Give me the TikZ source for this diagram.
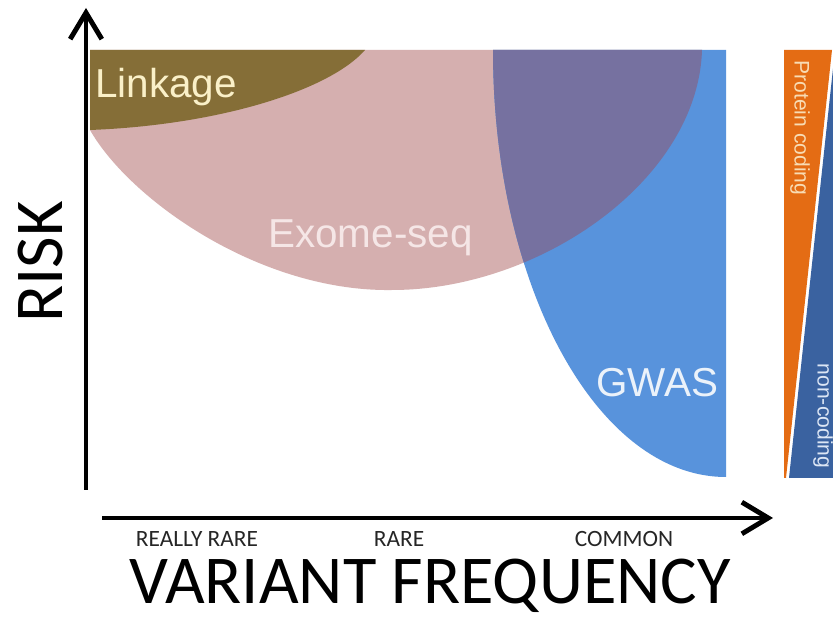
\documentclass[tikz,border=0pt]{standalone}
\usepackage{fontspec}
\setmainfont{Liberation Sans}
\newfontfamily\calfont{Carlito}
\usetikzlibrary{arrows.meta}
\definecolor{linkcol}{RGB}{133,110,55}
\definecolor{linktext}{RGB}{250,240,200}
\definecolor{exomecol}{RGB}{213,175,175}
\definecolor{exometext}{RGB}{245,230,230}
\definecolor{gwascol}{RGB}{88,147,220}
\definecolor{gwastext}{RGB}{235,242,250}
\definecolor{overlapcol}{RGB}{118,113,160}
\definecolor{codingcol}{RGB}{228,108,20}
\definecolor{codingtext}{RGB}{248,220,180}
\definecolor{noncodingcol}{RGB}{58,98,160}
\definecolor{noncodingtext}{RGB}{220,230,245}

\begin{document}
\begin{tikzpicture}[x=0.02cm, y=-0.02cm,
  axis/.style={line width=2.8pt, -{Straight Barb[length=15pt,width=18pt]}},
  region/.style={font=\fontsize{23}{23}\selectfont, anchor=base west, inner sep=0pt},
  freqlabel/.style={font=\calfont\fontsize{13.3}{14}\selectfont, anchor=base, inner sep=0pt, text=black!85},
  bigtitle/.style={font=\calfont\fontsize{39}{39}\selectfont, anchor=base, inner sep=0pt},
  sidelabel/.style={font=\fontsize{12}{12}\selectfont, rotate=-90, inner sep=0pt}]
\useasboundingbox (0,0) rectangle (833,621);
\clip (0,0) rectangle (833,621);
\fill[white] (0,0) rectangle (833,621);

\fill[exomecol] (90,50) -- (702,50) .. controls (698,180) and (540,290) .. (392,290)
  .. controls (260,292) and (130,200) .. (90,130) -- cycle;
\fill[gwascol] (493,50) -- (726,50) -- (726,477) .. controls (597,477) and (493,286) .. (493,50) -- cycle;
\begin{scope}
  \clip (493,50) -- (726,50) -- (726,477) .. controls (597,477) and (493,286) .. (493,50) -- cycle;
  \fill[overlapcol] (90,50) -- (702,50) .. controls (698,180) and (540,290) .. (392,290)
    .. controls (260,292) and (130,200) .. (90,130) -- cycle;
\end{scope}
\fill[linkcol] (90,50) -- (365,50) .. controls (330,90) and (220,125) .. (90,130) -- cycle;

\fill[codingcol] (784,50) -- (832,50) -- (786,478) -- (784,478) -- cycle;
\fill[noncodingcol] (835,50) -- (845,50) -- (845,478) -- (789,478) -- cycle;

\coordinate (yfoot) at (86,490);
\coordinate (ytip) at (86,8);
\coordinate (xfoot) at (102,518);
\coordinate (xtip) at (773,518);
\draw[axis] (yfoot) -- (ytip);
\draw[axis] (xfoot) -- (xtip);

\node[region, text=linktext] (linkage) at (95,98) {Linkage};
\node[region, text=exometext] (exome) at (268,248) {Exome-seq};
\node[region, text=gwastext] (gwas) at (596,397) {GWAS};

\node[sidelabel, text=codingtext] (coding) at (800,128) {Protein coding};
\node[sidelabel, text=noncodingtext] (noncoding) at (823,416) {non-coding};

\node[freqlabel] (reallyrare) at (197,547) {REALLY RARE};
\node[freqlabel] (rare) at (399,547) {RARE};
\node[freqlabel] (common) at (624,547) {COMMON};
\node[bigtitle] (freq) at (430,604) {VARIANT FREQUENCY};
\node[bigtitle, rotate=90] (risk) at (62,262) {RISK};
\end{tikzpicture}
\end{document}
